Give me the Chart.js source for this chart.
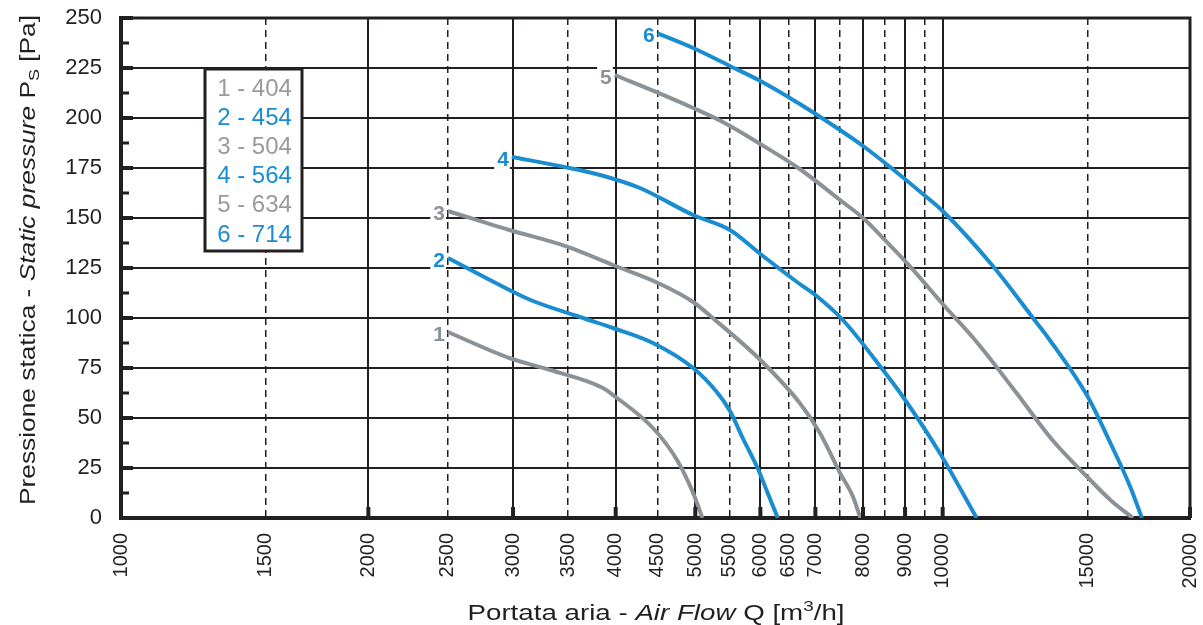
<!DOCTYPE html>
<html>
<head>
<meta charset="utf-8">
<script src="https://cdn.jsdelivr.net/npm/chart.js@4/dist/chart.umd.min.js"></script>
<style>
    html, body { margin: 0; padding: 0; background: #fff; }
    #wrap { width: 1203px; height: 625px; position: relative; }
</style>
</head>
<body>
<div id="wrap"><canvas id="fanChart"></canvas></div>
<script>
// curve data (Q in m3/h, Ps in Pa)
const curveNames = ['1', '2', '3', '4', '5', '6'];
const legendLines = ['1 - 404', '2 - 454', '3 - 504', '4 - 564', '5 - 634', '6 - 714'];

const q1 = [2500, 2970, 3330, 3860, 3970, 4440, 4750, 4970, 5100];
const p1 = [93, 80, 74, 65, 61.5, 45, 29, 12.5, 0];

const q2 = [2500, 2970, 3150, 3650, 3970, 4440, 4970, 5310, 5510, 5710, 5960, 6110, 6300];
const p2 = [130, 114, 109, 100, 95, 87.5, 75, 63, 53.5, 40, 24.5, 13.5, 0];

const q3 = [2500, 2970, 3490, 3970, 4530, 4970, 5250, 6000, 6700, 7090, 7500, 7780, 7940];
const p3 = [153.5, 144, 135.7, 126.5, 117, 108, 100, 79, 57.5, 42.5, 22.5, 10.5, 0];

const q4 = [2990, 3450, 3830, 4280, 4970, 5510, 6000, 6700, 7000, 7560, 8460, 8950, 9920, 11000];
const p4 = [180.5, 175.7, 171.5, 165, 151.5, 144, 132, 117, 111.5, 99, 74, 60.5, 32.5, 0];

const q5 = [3990, 4620, 4970, 5400, 6000, 6700, 7500, 8000, 8460, 9130, 10000, 11000, 12300, 13600, 15000, 16000, 17040];
const p5 = [221.5, 210.7, 205, 198, 187, 174.5, 159, 150, 140, 125.7, 107, 88, 62.5, 39, 20.5, 9, 0];

const q6 = [4500, 4970, 5510, 6000, 6700, 7500, 8000, 8630, 9460, 10000, 11510, 12880, 13500, 15000, 16000, 16900, 17480];
const p6 = [242.3, 235, 226, 218.5, 207, 194, 186, 175.5, 162, 153.5, 126, 100, 89, 61, 37.5, 16, 0];

// axis ticks
const xGrid = [1000, 1500, 2000, 2500, 3000, 3500, 4000, 4500, 5000, 5500, 6000, 6500, 7000, 7500, 8000, 8500, 9000, 9500, 10000, 15000, 20000];
const xSolid = [1000, 2000, 3000, 4000, 5000, 6000, 7000, 8000, 9000, 10000, 20000];
const xLabels = [1000, 1500, 2000, 2500, 3000, 3500, 4000, 4500, 5000, 5500, 6000, 6500, 7000, 8000, 9000, 10000, 15000, 20000];
const yStep = 12.5;
const yLabelStep = 25;

const BLUE = '#1a8dd0';
const GREY = '#8a9298';
const INK = '#231f20';
const FONT = 'Liberation Sans, Arial, Helvetica, sans-serif';

const curves = [[q1, p1], [q2, p2], [q3, p3], [q4, p4], [q5, p5], [q6, p6]];

function toPoints(qs, ps) {
    return qs.map((q, i) => ({ x: q, y: ps[i] }));
}

// draw a string made of differently styled pieces, stretched to a target width
function drawRich(ctx, parts, size, cx, y, targetWidth) {
    const fontOf = p => (p.italic ? 'italic ' : '') + (p.small ? Math.round(size * 0.68) : size) + 'px ' + FONT;
    let total = 0;
    parts.forEach(p => { ctx.font = fontOf(p); total += ctx.measureText(p.t).width; });
    const k = targetWidth / total;
    ctx.save();
    ctx.translate(cx, y);
    ctx.scale(k, 1);
    let x = -total / 2;
    ctx.textAlign = 'left';
    ctx.textBaseline = 'alphabetic';
    parts.forEach(p => {
        ctx.font = fontOf(p);
        let dy = 0;
        if (p.small === 'sup') dy = -size * 0.42;
        if (p.small === 'sub') dy = size * 0.2;
        ctx.fillText(p.t, x, dy);
        x += ctx.measureText(p.t).width;
    });
    ctx.restore();
}

const decorPlugin = {
    id: 'decor',
    afterDraw(chart) {
        const ctx = chart.ctx;
        const area = chart.chartArea;
        const xs = chart.scales.x;
        const ys = chart.scales.y;
        ctx.save();

        // frame top + right
        ctx.strokeStyle = INK;
        ctx.lineWidth = 3;
        ctx.beginPath();
        ctx.moveTo(area.left, area.top);
        ctx.lineTo(area.right, area.top);
        ctx.lineTo(area.right, area.bottom);
        ctx.stroke();

        // inner tick stubs on the left axis
        ctx.fillStyle = INK;
        for (let v = 0; v <= 250; v += yStep) {
            const py = ys.getPixelForValue(v);
            const full = v % yLabelStep === 0;
            ctx.fillRect(area.left, py - (full ? 2 : 1.5), full ? 12 : 8, full ? 4 : 3);
        }
        // inner tick stubs on the bottom axis
        xSolid.forEach(v => {
            const px = xs.getPixelForValue(v);
            ctx.fillRect(px - 2, area.bottom - 11, 4, 11);
        });

        // curve numbers at the start of each curve
        ctx.font = 'bold 21px ' + FONT;
        ctx.textAlign = 'right';
        ctx.textBaseline = 'middle';
        chart.data.datasets.forEach((ds, i) => {
            const pt = chart.getDatasetMeta(i).data[0];
            const w = ctx.measureText(curveNames[i]).width;
            ctx.fillStyle = '#fff';
            ctx.fillRect(pt.x - 4 - w - 2, pt.y - 8, w + 4, 20);
            ctx.fillStyle = ds.borderColor;
            ctx.fillText(curveNames[i], pt.x - 3, pt.y + 3);
        });

        // legend box
        const bx = 205, by = 69, bw = 97, bh = 182;
        ctx.fillStyle = '#fff';
        ctx.fillRect(bx, by, bw, bh);
        ctx.strokeStyle = INK;
        ctx.lineWidth = 3;
        ctx.strokeRect(bx, by, bw, bh);
        ctx.font = '24px ' + FONT;
        ctx.textAlign = 'center';
        ctx.textBaseline = 'middle';
        legendLines.forEach((t, i) => {
            ctx.fillStyle = i % 2 ? BLUE : '#9a9a9a';
            ctx.fillText(t, bx + bw / 2 + 1, by + 20 + i * 29.2);
        });

        // axis titles
        ctx.fillStyle = INK;
        drawRich(ctx, [
            { t: 'Portata aria - ' },
            { t: 'Air Flow', italic: true },
            { t: ' Q [m' },
            { t: '3', small: 'sup' },
            { t: '/h]' }
        ], 22, 656, 620, 377);

        ctx.translate(35, 260);
        ctx.rotate(-Math.PI / 2);
        drawRich(ctx, [
            { t: 'Pressione statica - ' },
            { t: 'Static pressure', italic: true },
            { t: ' P' },
            { t: 'S', small: 'sub' },
            { t: ' [Pa]' }
        ], 22, 0, 0, 490);

        ctx.restore();
    }
};

document.addEventListener('DOMContentLoaded', () => {
    const ctx = document.getElementById('fanChart');

    new Chart(ctx, {
        type: 'line',
        data: {
            datasets: curves.map(([qs, ps], i) => ({
                label: curveNames[i],
                data: toPoints(qs, ps),
                borderColor: i % 2 ? BLUE : GREY,
                borderWidth: 4,
                pointRadius: 0,
                fill: false,
                cubicInterpolationMode: 'monotone'
            }))
        },
        options: {
            responsive: true,
            maintainAspectRatio: false,
            animation: false,
            devicePixelRatio: 1,
            layout: { padding: { left: 0, top: 18, right: 13, bottom: 0 } },
            plugins: {
                legend: { display: false },
                tooltip: { enabled: false }
            },
            scales: {
                x: {
                    type: 'logarithmic',
                    min: 1000,
                    max: 20000,
                    afterBuildTicks: scale => {
                        scale.ticks = xGrid.map(v => ({ value: v }));
                    },
                    afterFit: scale => {
                        scale.height = 107;
                        scale.paddingLeft = 0;
                        scale.paddingRight = 0;
                    },
                    ticks: {
                        autoSkip: false,
                        minRotation: 90,
                        maxRotation: 90,
                        padding: 15,
                        color: INK,
                        font: { family: FONT, size: 20 },
                        callback: v => xLabels.includes(v) ? String(v) : ''
                    },
                    grid: {
                        drawTicks: false,
                        color: INK,
                        lineWidth: c => (c.tick && xSolid.includes(c.tick.value)) ? 2 : 1.5
                    },
                    border: {
                        display: true,
                        width: 4,
                        color: INK,
                        dash: c => (c.tick && !xSolid.includes(c.tick.value)) ? [7, 5] : []
                    }
                },
                y: {
                    type: 'linear',
                    min: 0,
                    max: 250,
                    afterFit: scale => {
                        scale.width = 121;
                        scale.paddingTop = 0;
                        scale.paddingBottom = 0;
                    },
                    ticks: {
                        stepSize: yStep,
                        padding: 19,
                        color: INK,
                        font: { family: FONT, size: 22 },
                        callback: v => v % yLabelStep === 0 ? String(v) : ''
                    },
                    grid: {
                        drawTicks: false,
                        color: INK,
                        lineWidth: 2
                    },
                    border: {
                        display: true,
                        width: 4,
                        color: INK,
                        dash: c => (c.tick && c.tick.value % yLabelStep !== 0) ? [3, 2] : []
                    }
                }
            }
        },
        plugins: [decorPlugin]
    });
});
</script>
</body>
</html>
